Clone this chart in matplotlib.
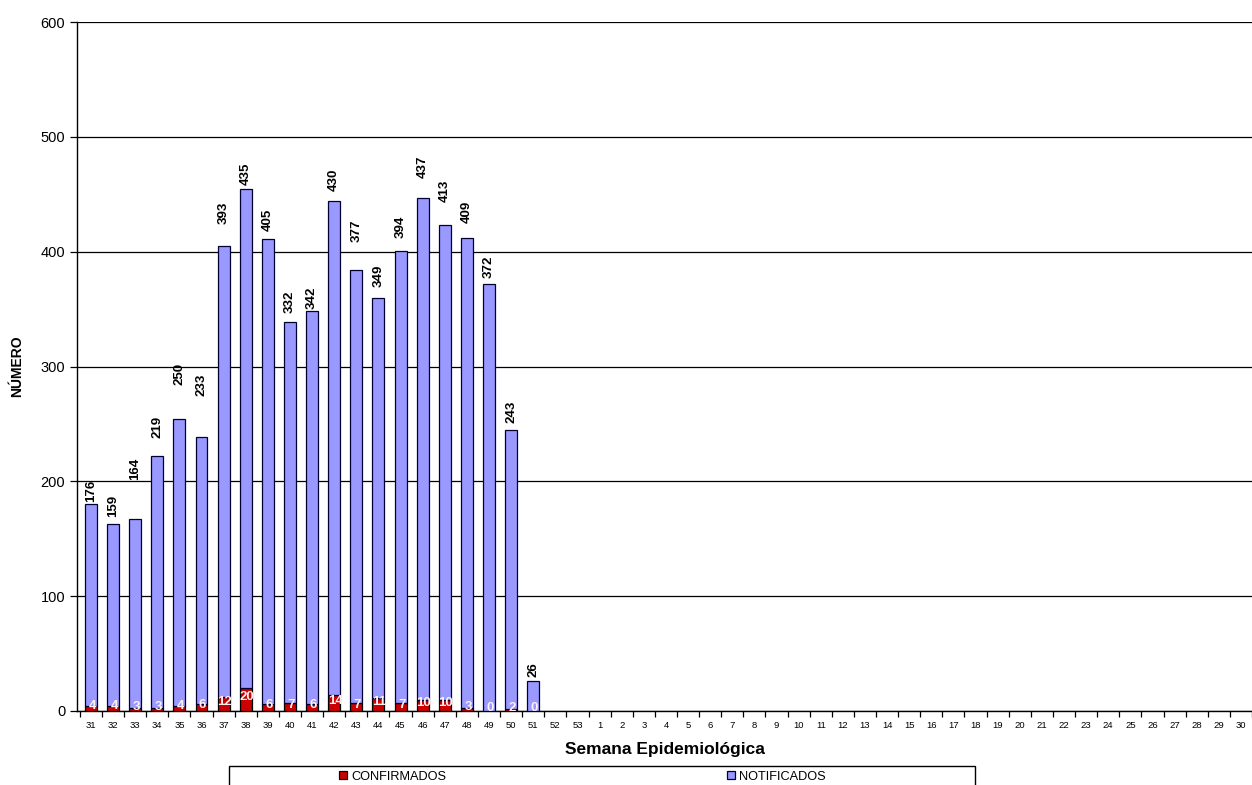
import matplotlib
matplotlib.use("Agg")
import matplotlib.pyplot as plt
from matplotlib.patches import Rectangle
import numpy as np

weeks = [str(w) for w in list(range(31, 54)) + list(range(1, 31))]
confirmados = [4, 4, 3, 3, 4, 6, 12, 20, 6, 7, 6, 14, 7, 11, 7, 10, 10, 3, 0, 2, 0]
notificados = [176, 159, 164, 219, 250, 233, 393, 435, 405, 332, 342, 430, 377, 349,
               394, 437, 413, 409, 372, 243, 26]

# label gap above each bar (styling, data units)
label_gap = [2, 6, 34, 16, 30, 35, 19, 3, 7, 8, 2, 9, 24, 9, 11, 17, 20, 13, 5, 6, 4]

plt.rcParams['font.family'] = ['Liberation Sans', 'DejaVu Sans']

W, H = 1252, 785
fig = plt.figure(figsize=(W / 100, H / 100), dpi=100)
ax = fig.add_axes([77 / W, 1 - 711 / H, 1 - 77 / W, (711 - 22) / H])

n = len(weeks)
x = np.arange(n)
nd = len(notificados)
xd = x[:nd]
conf = np.array(confirmados)
notif = np.array(notificados)

red = '#CC0000'
blue = '#9999FF'
bw = 0.54
b1 = ax.bar(xd, conf, width=bw, color=red, edgecolor='black', linewidth=0.9, label='CONFIRMADOS', zorder=3)
b2 = ax.bar(xd, notif, bottom=conf, width=bw, color=blue, edgecolor='#000030', linewidth=0.9, label='NOTIFICADOS', zorder=3)

for xi, c, t, g in zip(xd, conf, notif, label_gap):
    ax.text(xi, c + t + g, str(t), rotation=90, ha='center', va='bottom',
            fontsize=9.5, fontweight='bold', zorder=4)
    ax.text(xi + 0.05, max(c, 2) / 2 + 2, str(c), ha='center', va='center', color='#FFF0F0',
            fontsize=9.5, fontweight='bold', zorder=4)

ax.set_xlim(-0.63, n - 0.75)
ax.set_ylim(0, 600)
ax.set_yticks(np.arange(0, 601, 100))
ax.yaxis.grid(True, color='black', linewidth=0.9, zorder=0)
ax.set_axisbelow(True)
ax.tick_params(axis='y', labelsize=10.5, length=5, width=0.9, direction='out')
ax.set_xticks(x)
ax.set_xticklabels(weeks, fontsize=6.8)
ax.tick_params(axis='x', length=0, pad=7)
ax.set_xticks(np.arange(-0.5, n, 1), minor=True)
ax.tick_params(axis='x', which='minor', length=4, width=0.9, direction='out')
for s in ['top', 'right']:
    ax.spines[s].set_visible(False)
ax.spines['left'].set_linewidth(1.0)
ax.spines['bottom'].set_linewidth(1.0)

ax.set_ylabel('NÚMERO', fontsize=10, fontweight='bold', labelpad=12)
ax.set_xlabel('Semana Epidemiológica', fontsize=12.5, fontweight='bold', labelpad=9)

# legend frame
fig.patches.append(Rectangle((229 / W, -0.02), (975 - 229) / W, 0.02 + (785 - 766) / H,
                             transform=fig.transFigure, facecolor='white',
                             edgecolor='black', linewidth=1.0, zorder=1))
yleg = 1 - 776.5 / H
for handle, lab, xpos in [(b1, 'CONFIRMADOS', 339), (b2, 'NOTIFICADOS', 727)]:
    lg = fig.legend(handles=[handle], labels=[lab], loc='center left',
                    bbox_to_anchor=(xpos / W, yleg), fontsize=9.2, frameon=False,
                    handlelength=0.65, handleheight=0.65, handletextpad=0.3,
                    borderpad=0, borderaxespad=0)
    lg.set_zorder(2)

fig.savefig('out.png', dpi=100)
